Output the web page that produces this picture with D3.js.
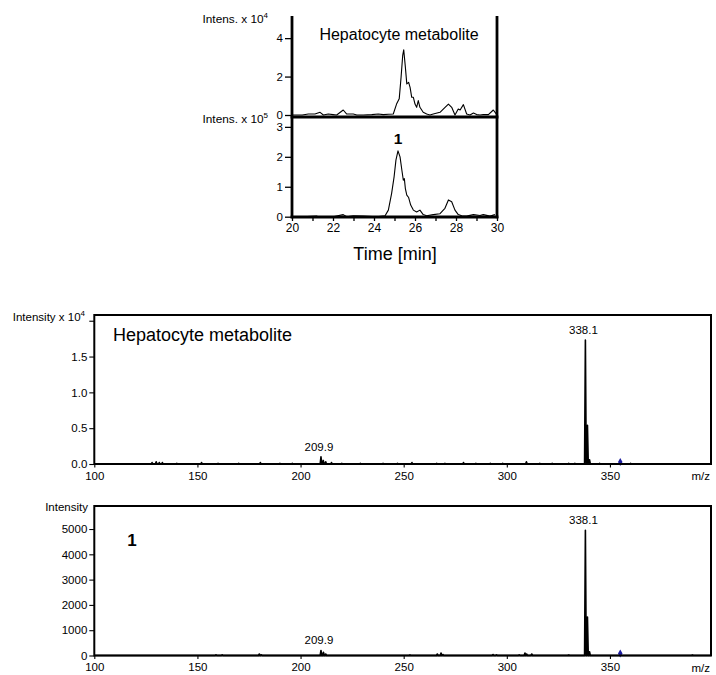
<!DOCTYPE html>
<html>
<head>
<meta charset="utf-8">
<script src="https://cdn.jsdelivr.net/npm/d3@7/dist/d3.min.js"></script>
<style>
  body { margin: 0; background: #fff; }
  svg { display: block; }
  text { font-family: "Liberation Sans", Arial, Helvetica, sans-serif; fill: #000; }
</style>
</head>
<body>
<svg id="fig" width="716" height="675"></svg>
<script>
// ---- Extracted ion chromatograms (time in min) ----
// hepatocyte metabolite, intensity x 10^4
const hepTime = [20.0,20.16,20.5,20.8,21.12,21.37,21.53,21.77,22.0,22.18,22.5,22.67,22.99,23.16,23.48,23.89,24.21,24.45,24.7,24.94,25.1,25.23,25.32,25.4,25.45,25.53,25.6,25.69,25.76,25.84,25.92,26.0,26.08,26.16,26.24,26.4,26.57,26.73,26.89,27.22,27.38,27.63,27.79,27.95,28.11,28.2,28.36,28.52,28.68,28.85,29.01,29.17,29.33,29.58,29.82,29.99];
const hepIntensity = [0,0,0,0.05,0.05,0.14,0,0.05,0.02,0,0.26,0.05,0.05,0,0,0.02,0.05,0.02,0.04,0.05,0.57,0.84,1.96,3.1,3.39,2.49,1.62,1.7,1.44,0.92,0.92,0.57,0.4,0.75,0.4,0.14,0.05,0,0.05,0.14,0.31,0.57,0.4,0,0.31,0.26,0.54,0.05,0,0.1,0.02,0,0.02,0.02,0.26,0.02];
// reference compound 1, intensity x 10^5
const refTime = [20.0,20.5,21.2,21.28,22.0,22.5,22.67,22.99,23.48,24.13,24.54,24.7,24.86,24.98,25.07,25.17,25.27,25.36,25.43,25.48,25.53,25.6,25.69,25.79,25.92,26.08,26.24,26.4,26.57,26.89,27.22,27.46,27.63,27.79,27.95,28.11,28.28,28.52,28.85,29.17,29.33,29.66,29.9];
const refIntensity = [0,0,0.02,0,0,0.07,0,0.03,0.02,0,0.03,0.22,0.78,1.33,1.89,2.2,2.0,1.55,1.22,1.27,0.94,0.72,0.64,0.39,0.22,0.16,0.22,0.07,0.03,0.07,0.1,0.28,0.56,0.5,0.22,0.07,0.03,0.02,0.07,0.04,0.07,0.02,0.07];

const timeTicks = [20,21,22,23,24,25,26,27,28,29,30];
const hepIntTicks = [0,2,4];
const refIntTicks = [0,1,2,3];

// ---- MS spectra (m/z, intensity) ----
// hepatocyte metabolite, intensity x 10^4
const hepMz =    [128,130,131.5,133,140,152,160,170,180.5,190,196,209.9,211.0,212.2,215,220,229,240,247,254,266,270,279,285,292,298,309.5,316,322,330,333,338.1,339.1,340.1,345,360];
const hepAbund = [0.02,0.03,0.02,0.02,0.01,0.02,0.01,0.01,0.02,0.01,0.01,0.10,0.05,0.03,0.02,0.01,0.01,0.01,0.01,0.02,0.01,0.01,0.02,0.01,0.01,0.01,0.03,0.01,0.01,0.01,0.01,1.73,0.54,0.06,0.01,0.01];
// compound 1, absolute intensity
const refMz =    [159,162,180,181,209.9,211.1,212.2,253,266.3,268.1,269,293.3,295,306,308.8,309.6,312.1,330,338.1,339.1,340.1,390];
const refAbund = [30,30,60,30,200,130,60,20,60,100,40,40,30,30,100,60,60,20,4950,1520,150,20];

const precursorMz = 355;
const labelledPeaks = [209.9, 338.1];
const mzTicks = [100,150,200,250,300,350];
const hepAbundTicks = [0,0.5,1.0,1.5];
const refAbundTicks = [0,1000,2000,3000,4000,5000];

const svg = d3.select("#fig");

// ================= Chromatograms =================
const xT = d3.scaleLinear().domain([20, 30]).range([292, 497]);
const yHep = d3.scaleLinear().domain([0, 5.1]).range([115, 17]);
const yRef = d3.scaleLinear().domain([0, 3.33]).range([216.7, 117]);

function chromAxis(scale, major, minor) {
  const g = svg.append("g").attr("transform", "translate(292,0)");
  g.call(d3.axisLeft(scale).tickValues(minor).tickSize(4).tickFormat(""));
  g.call(d3.axisLeft(scale).tickValues(major).tickSize(7).tickPadding(2).tickFormat(d3.format("d")));
  g.selectAll(".domain").remove();
  g.selectAll("line").attr("stroke", "#000").attr("stroke-width", 1.3);
  g.selectAll("text").attr("font-size", 11.5);
}
chromAxis(yHep, hepIntTicks, [1, 3, 5]);
chromAxis(yRef, refIntTicks, [0.5, 1.5, 2.5]);

// time axis
const gxT = svg.append("g").attr("transform", "translate(0,217)")
  .call(d3.axisBottom(xT).tickValues(timeTicks).tickSize(4).tickPadding(2)
    .tickFormat(d => d % 2 === 0 ? d : ""));
gxT.select(".domain").remove();
gxT.selectAll("line").attr("stroke", "#000").attr("stroke-width", 1.3);
gxT.selectAll("text").attr("font-size", 12);

// traces
const lineHep = d3.line().x((d, i) => xT(hepTime[i])).y(d => yHep(d));
const lineRef = d3.line().x((d, i) => xT(refTime[i])).y(d => yRef(d));
svg.append("path").attr("d", lineHep(hepIntensity))
  .attr("fill", "none").attr("stroke", "#000").attr("stroke-width", 1.1).attr("stroke-linejoin", "round");
svg.append("path").attr("d", lineRef(refIntensity))
  .attr("fill", "none").attr("stroke", "#000").attr("stroke-width", 1.1).attr("stroke-linejoin", "round");

// frame
const frame = svg.append("g").attr("stroke", "#000").attr("stroke-width", 2.8).attr("fill", "none");
frame.append("line").attr("x1", 292).attr("x2", 292).attr("y1", 16).attr("y2", 218.2);
frame.append("line").attr("x1", 497).attr("x2", 497).attr("y1", 16).attr("y2", 218.2);
frame.append("line").attr("x1", 290.6).attr("x2", 498.4).attr("y1", 117).attr("y2", 117);
frame.append("line").attr("x1", 290.6).attr("x2", 498.4).attr("y1", 217).attr("y2", 217);

// labels
function intensLabel(x, y, txt, exp, size) {
  const t = svg.append("text").attr("x", x).attr("y", y).attr("text-anchor", "end").attr("font-size", size);
  t.append("tspan").text(txt);
  t.append("tspan").attr("font-size", size * 0.68).attr("dy", -size * 0.42).text(exp);
}
intensLabel(268, 23, "Intens. x 10", "4", 11.8);
intensLabel(268, 123, "Intens. x 10", "5", 11.8);
svg.append("text").attr("x", 399).attr("y", 40).attr("text-anchor", "middle")
  .attr("font-size", 16).text("Hepatocyte metabolite");
svg.append("text").attr("x", 398).attr("y", 143.5).attr("text-anchor", "middle")
  .attr("font-size", 15.5).attr("font-weight", "bold").text("1");
svg.append("text").attr("x", 395).attr("y", 260).attr("text-anchor", "middle")
  .attr("font-size", 18).text("Time [min]");

// ================= Mass spectra =================
const xMz = d3.scaleLinear().domain([100, 399]).range([94.3, 711]);

function profile(mz, ab) {
  // stick list -> profile of narrow triangles on the baseline
  const pts = [[100, 0]];
  mz.forEach((m, i) => { pts.push([m - 0.4, 0], [m, ab[i]], [m + 0.4, 0]); });
  pts.push([399, 0]);
  return pts;
}

function spectrum(opt) {
  const y = d3.scaleLinear().domain(opt.yDomain).range([opt.bottom, opt.top]);
  const gy = svg.append("g").attr("transform", "translate(94.3,0)");
  gy.call(d3.axisLeft(y).tickValues(opt.minor).tickSize(2.5).tickFormat(""));
  gy.call(d3.axisLeft(y).tickValues(opt.major).tickSize(5).tickPadding(2).tickFormat(opt.fmt));
  gy.selectAll(".domain").remove();
  gy.selectAll("line").attr("stroke", "#000").attr("stroke-width", 1.1);
  gy.selectAll("text").attr("font-size", 11.5);

  const gx = svg.append("g").attr("transform", `translate(0,${opt.bottom})`);
  gx.call(d3.axisBottom(xMz).tickValues(d3.range(110, 400, 10)).tickSize(3).tickFormat(""));
  gx.call(d3.axisBottom(xMz).tickValues(mzTicks).tickSize(3.5).tickPadding(4).tickFormat(d3.format("d")));
  gx.selectAll(".domain").remove();
  gx.selectAll("line").attr("stroke", "#000").attr("stroke-width", 1.1);
  gx.selectAll("text").attr("font-size", 11.5);
  svg.append("text").attr("x", 710).attr("y", opt.bottom + 16).attr("text-anchor", "end")
    .attr("font-size", 11.5).text("m/z");

  const line = d3.line().x(d => xMz(d[0])).y(d => y(d[1]));
  svg.append("path").attr("d", line(profile(opt.mz, opt.ab)))
    .attr("fill", "none").attr("stroke", "#000").attr("stroke-width", 1.6).attr("stroke-linejoin", "round");

  // precursor marker
  svg.append("path").attr("d", d3.symbol(d3.symbolDiamond, 18)())
    .attr("transform", `translate(${xMz(precursorMz)},${y(0) - 2})`).attr("fill", "#1c1ca0");

  labelledPeaks.forEach(m => {
    const i = opt.mz.indexOf(m);
    svg.append("text").attr("x", xMz(m) - 2).attr("y", y(opt.ab[i]) - 6)
      .attr("text-anchor", "middle").attr("font-size", 11.5).text(m.toFixed(1));
  });

  svg.append("rect").attr("x", 94.3).attr("y", opt.top).attr("width", 711 - 94.3).attr("height", opt.bottom - opt.top)
    .attr("fill", "none").attr("stroke", "#000").attr("stroke-width", 2);
  return y;
}

spectrum({
  top: 315, bottom: 464, yDomain: [0, 2.08],
  major: hepAbundTicks.concat([2.0]), minor: d3.range(0, 2.05, 0.1),
  fmt: d => d === 2 ? "" : d.toFixed(1), mz: hepMz, ab: hepAbund
});
spectrum({
  top: 506, bottom: 655.5, yDomain: [0, 5910],
  major: refAbundTicks, minor: d3.range(0, 5900, 200),
  fmt: d3.format("d"), mz: refMz, ab: refAbund
});

const tIS = svg.append("text").attr("x", 85).attr("y", 321).attr("text-anchor", "end").attr("font-size", 11.5);
tIS.append("tspan").text("Intensity x 10");
tIS.append("tspan").attr("font-size", 8).attr("dy", -5).text("4");
svg.append("text").attr("x", 88).attr("y", 511).attr("text-anchor", "end").attr("font-size", 11.5).text("Intensity");
svg.append("text").attr("x", 113).attr("y", 341).attr("font-size", 18).text("Hepatocyte metabolite");
svg.append("text").attr("x", 132).attr("y", 546).attr("text-anchor", "middle")
  .attr("font-size", 17).attr("font-weight", "bold").text("1");
</script>
</body>
</html>
